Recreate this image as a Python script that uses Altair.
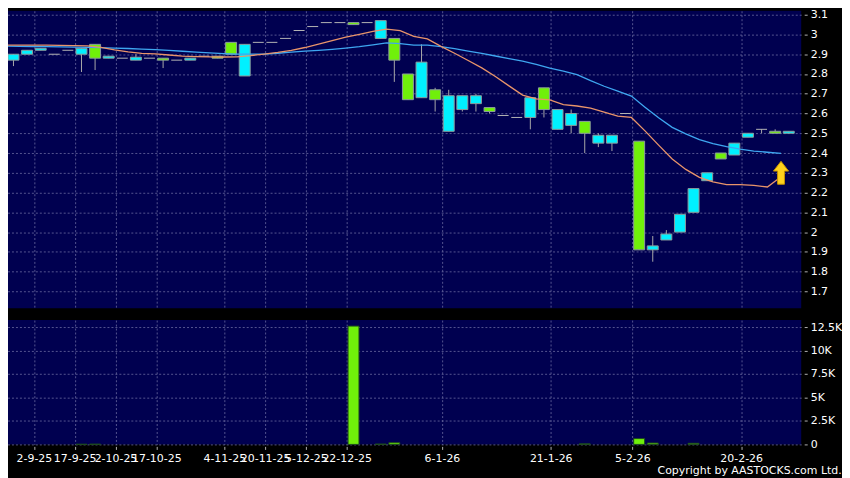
import altair as alt
import pandas as pd

# ---------------- data ----------------
opens = [2.87, 2.90, 2.92, 2.90, 2.92, 2.90, 2.95, 2.88, 2.88, 2.87,
         2.88, 2.88, 2.87, 2.87, 2.89, 2.89, 2.96, 2.79, 2.96, 2.96,
         2.98, 3.02, 3.04, 3.06, 3.06, 3.06, 3.06, 2.98, 2.98, 2.80,
         2.68, 2.72, 2.51, 2.62, 2.65, 2.63, 2.59, 2.58, 2.58, 2.73,
         2.52, 2.54, 2.56, 2.45, 2.45, 2.60, 2.46, 1.91, 1.96, 2.00,
         2.10, 2.26, 2.40, 2.39, 2.48, 2.52, 2.51, 2.50]
highs = [2.90, 2.92, 2.93, 2.90, 2.92, 2.93, 2.95, 2.89, 2.88, 2.90,
         2.88, 2.88, 2.87, 2.88, 2.89, 2.89, 2.96, 2.95, 2.96, 2.96,
         2.98, 3.02, 3.04, 3.06, 3.06, 3.06, 3.06, 3.07, 2.98, 2.80,
         2.95, 2.73, 2.72, 2.69, 2.70, 2.63, 2.59, 2.58, 2.68, 2.73,
         2.62, 2.62, 2.56, 2.50, 2.49, 2.60, 2.46, 1.98, 2.01, 2.09,
         2.22, 2.30, 2.40, 2.45, 2.50, 2.52, 2.52, 2.51]
lows = [2.84, 2.90, 2.92, 2.90, 2.92, 2.81, 2.82, 2.88, 2.88, 2.87,
        2.88, 2.83, 2.87, 2.87, 2.89, 2.88, 2.90, 2.79, 2.96, 2.96,
        2.98, 3.02, 3.04, 3.06, 3.06, 3.05, 3.06, 2.98, 2.76, 2.67,
        2.68, 2.61, 2.51, 2.61, 2.61, 2.60, 2.59, 2.58, 2.52, 2.58,
        2.52, 2.50, 2.40, 2.43, 2.41, 2.60, 1.91, 1.85, 1.96, 2.00,
        2.10, 2.26, 2.37, 2.39, 2.48, 2.50, 2.50, 2.50]
closes = [2.90, 2.92, 2.93, 2.90, 2.92, 2.93, 2.88, 2.89, 2.88, 2.885,
          2.88, 2.87, 2.87, 2.88, 2.89, 2.88, 2.90, 2.95, 2.96, 2.96,
          2.98, 3.02, 3.04, 3.06, 3.06, 3.05, 3.06, 3.07, 2.87, 2.67,
          2.86, 2.67, 2.69, 2.69, 2.69, 2.61, 2.59, 2.58, 2.68, 2.62,
          2.62, 2.60, 2.50, 2.49, 2.49, 2.60, 1.91, 1.93, 1.99, 2.09,
          2.22, 2.30, 2.37, 2.45, 2.50, 2.52, 2.50, 2.51]
volumes = [0, 0, 0, 0, 0, 20, 30, 0, 0, 0,
           0, 0, 0, 0, 0, 0, 0, 0, 0, 0,
           0, 0, 0, 0, 0, 12600, 0, 40, 180, 0,
           0, 0, 0, 0, 0, 0, 0, 0, 0, 0,
           0, 0, 60, 0, 0, 0, 620, 150, 0, 0,
           120, 0, 0, 0, 0, 0, 0, 0]
# moving averages, one value per session starting one session before the first candle
ma_short = [2.946, 2.946, 2.946, 2.946, 2.945, 2.944, 2.942, 2.935, 2.922, 2.912,
            2.904, 2.902, 2.896, 2.890, 2.888, 2.887, 2.886, 2.887, 2.893, 2.901,
            2.909, 2.919, 2.934, 2.951, 2.969, 2.986, 3.001, 3.016, 3.027, 3.019,
            2.990, 2.978, 2.940, 2.905, 2.868, 2.831, 2.787, 2.740, 2.693, 2.674,
            2.669, 2.645, 2.638, 2.627, 2.607, 2.587, 2.580, 2.512, 2.440, 2.370,
            2.317, 2.277, 2.254, 2.240, 2.240, 2.236, 2.228, 2.280]
ma_long = [2.941, 2.940, 2.939, 2.938, 2.937, 2.936, 2.935, 2.933, 2.931, 2.929,
           2.926, 2.923, 2.919, 2.915, 2.911, 2.907, 2.903, 2.900, 2.900, 2.901,
           2.905, 2.911, 2.916, 2.920, 2.925, 2.931, 2.938, 2.947, 2.957, 2.954,
           2.946, 2.946, 2.939, 2.928, 2.916, 2.904, 2.891, 2.878, 2.865, 2.849,
           2.830, 2.815, 2.797, 2.766, 2.738, 2.713, 2.688, 2.632, 2.578, 2.530,
           2.497, 2.468, 2.448, 2.432, 2.420, 2.410, 2.404, 2.398]
tick_pos = [1.5, 4.5, 7.5, 10.5, 15.5, 18.5, 21.5, 24.5, 31.5, 39.5, 45.5, 53.5]
tick_labels = ["2-9-25", "17-9-25", "2-10-25", "17-10-25", "4-11-25", "20-11-25",
               "5-12-25", "22-12-25", "6-1-26", "21-1-26", "5-2-26", "20-2-26"]
price_ticks = [1.7, 1.8, 1.9, 2.0, 2.1, 2.2, 2.3, 2.4, 2.5, 2.6, 2.7, 2.8, 2.9, 3.0, 3.1]
vol_ticks = [0, 2500, 5000, 7500, 10000, 12500]
arrow_price = 2.30

# ---------------- tables ----------------
n = len(closes)
df = pd.DataFrame({"i": list(range(n)), "open": opens, "high": highs,
                   "low": lows, "close": closes, "volume": volumes})
ma_df = pd.DataFrame({"x": [k + 0.43 for k in range(-1, n - 1)],
                      "short": ma_short, "long": ma_long})
arrow_df = pd.DataFrame({"x": [n - 2 + 0.43], "y": [arrow_price]})

CYAN = "#00f0ff"
GREEN = "#70f00a"
NAVY = "#000050"
FONT = "DejaVu Sans"

xscale = alt.Scale(domain=[-0.22, n - 0.45], nice=False, zero=False)
pscale = alt.Scale(domain=[1.615, 3.12], nice=False, zero=False)
vscale = alt.Scale(domain=[0, 13240], nice=False)

label_expr = ("[" + ",".join("'%s'" % t for t in tick_labels) + "][indexof(["
              + ",".join(str(p) for p in tick_pos) + "], datum.value)]")


def top_xaxis():
    return alt.Axis(values=tick_pos, labels=False, ticks=False, domain=False,
                    grid=True, title=None)


def price_axis():
    return alt.Axis(orient="right", values=price_ticks, format="~g", title=None,
                    grid=True, domain=False, offset=3, tickSize=3, labelPadding=3)


def X(field):
    return alt.X(field, scale=xscale, axis=top_xaxis())


def Y(field):
    return alt.Y(field, scale=pscale, axis=price_axis())


base = alt.Chart(df)

wicks = base.mark_rule(color="#a8a8a8", strokeWidth=1).encode(
    x=X("i:Q"), y=Y("low:Q"), y2="high:Q",
)
flats = base.transform_filter("datum.open == datum.close").mark_rule(
    color="#b4b4b4", strokeWidth=1, xOffset=-5.5, x2Offset=5.5
).encode(
    x=X("i:Q"), x2="i:Q", y=Y("close:Q"),
)
boxes = base.transform_filter("datum.open != datum.close").mark_bar(
    size=11, stroke="#8c9c9c", strokeWidth=1
).encode(
    x=X("i:Q"), y=Y("open:Q"), y2="close:Q",
    color=alt.condition("datum.close > datum.open", alt.value(CYAN), alt.value(GREEN)),
)
ma_base = alt.Chart(ma_df)
line_short = ma_base.mark_line(color="#e8946a", strokeWidth=1.3, clip=True).encode(
    x=X("x:Q"), y=Y("short:Q"),
)
line_long = ma_base.mark_line(color="#3ea6f0", strokeWidth=1.3, clip=True).encode(
    x=X("x:Q"), y=Y("long:Q"),
)
arrow = alt.Chart(arrow_df).mark_point(
    shape="M0,-1L0.66,-0.15L0.3,-0.15L0.3,1L-0.3,1L-0.3,-0.15L-0.66,-0.15Z",
    size=529, filled=True, fill="#ffd21c", stroke="#c89200", strokeWidth=1, opacity=1
).encode(
    x=X("x:Q"), y=Y("y:Q"),
)

price = alt.layer(wicks, flats, boxes, line_long, line_short, arrow).properties(
    width=800, height=299)

vol_axis = alt.Axis(orient="right", values=vol_ticks, title=None, grid=True,
                    domain=False, offset=3, tickSize=3, labelPadding=3,
                    labelExpr="datum.value == 0 ? '0' : format(datum.value / 1000, '~g') + 'K'")
bottom_xaxis = alt.Axis(values=tick_pos, labelExpr=label_expr, title=None, grid=True,
                        domain=False, ticks=True, tickSize=3, offset=2,
                        labelOverlap=False, labelFlush=False, labelPadding=3)

volume = base.transform_filter("datum.volume > 0").mark_bar(
    size=11, color=GREEN, stroke="#1e4a1e", strokeWidth=1
).encode(
    x=alt.X("i:Q", scale=xscale, axis=bottom_xaxis),
    y=alt.Y("volume:Q", scale=vscale, axis=vol_axis),
).properties(width=800, height=125)

chart = alt.vconcat(price, volume, spacing=12).properties(
    background="black",
    padding={"left": -2.5, "top": -1.5, "right": 0, "bottom": 0},
    title=alt.TitleParams(
        text="Copyright by AASTOCKS.com Ltd.", orient="bottom", anchor="end",
        frame="bounds", color="white", fontSize=11, font=FONT,
        fontWeight="normal", offset=2),
).configure_view(
    fill=NAVY, strokeWidth=0
).configure_axis(
    gridColor="#6a6aa0", gridDash=[2, 2], gridWidth=1, gridOpacity=0.8,
    tickColor="#b0b0b0", labelColor="white", labelFont=FONT, labelFontSize=11,
)

chart.save("out.html", embed_options={"renderer": "svg", "actions": False})
